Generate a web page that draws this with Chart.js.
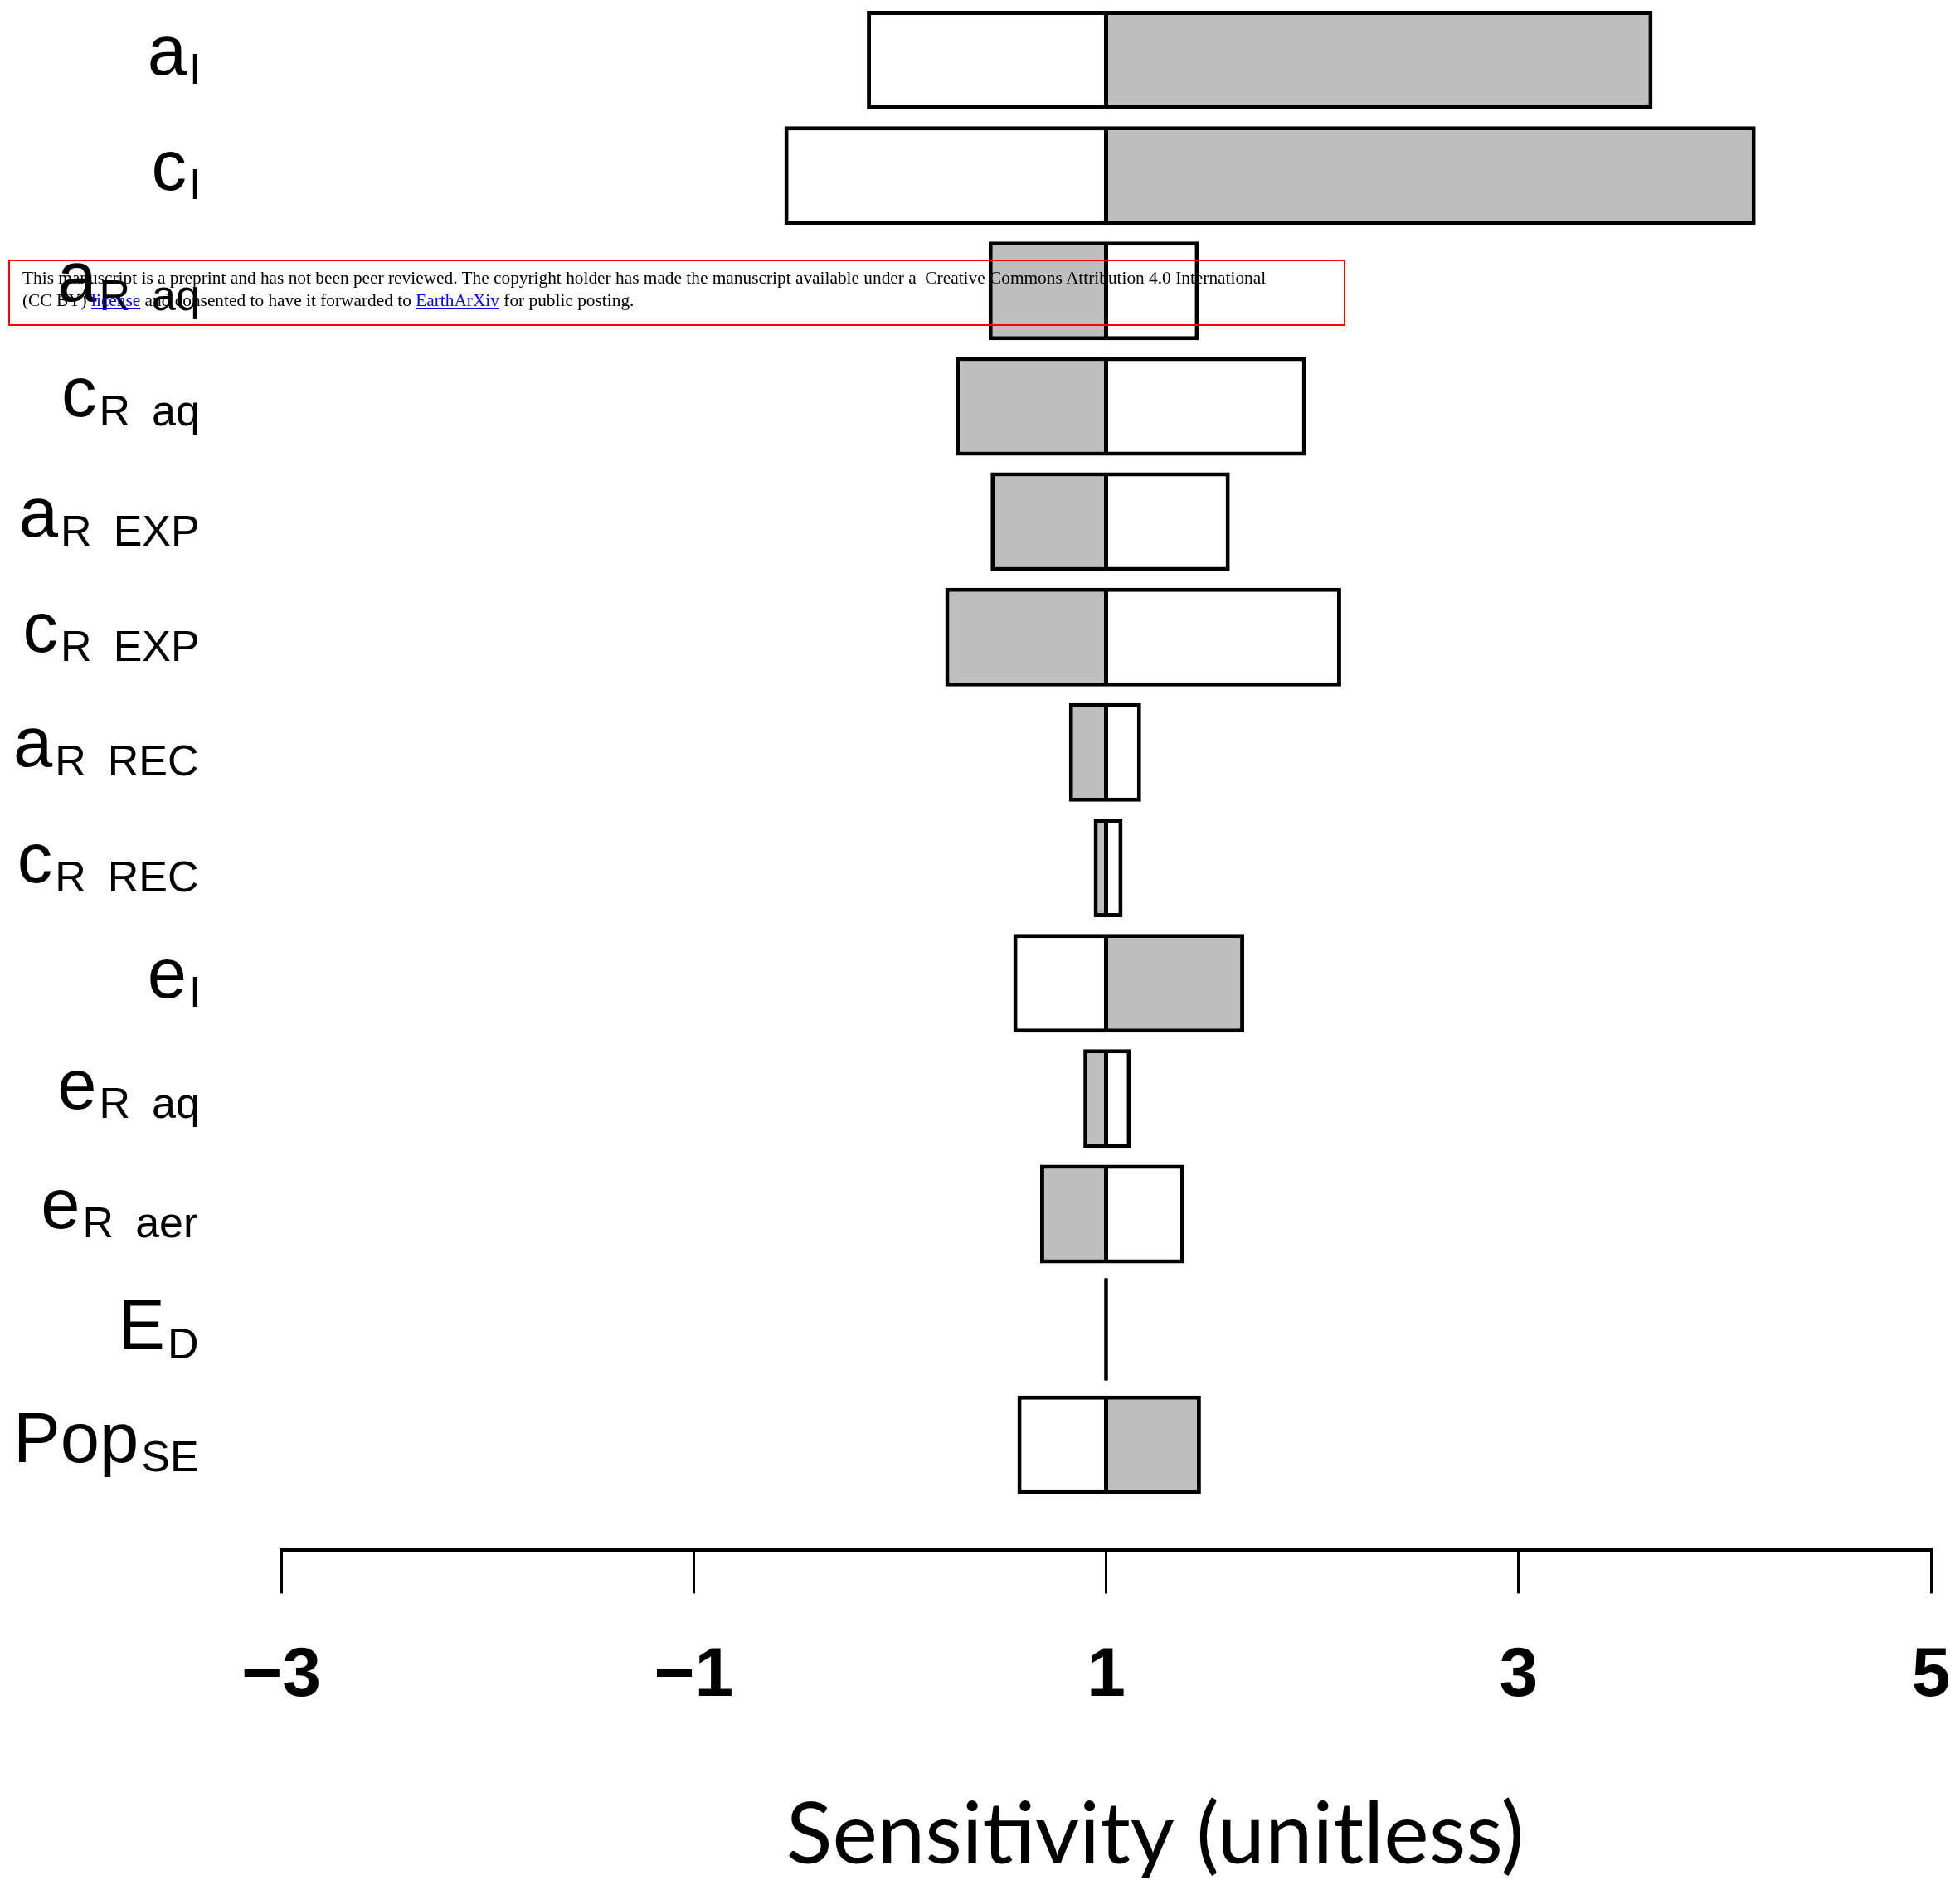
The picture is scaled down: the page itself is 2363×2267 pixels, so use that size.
<!DOCTYPE html>
<html>
<head>
<meta charset="utf-8">
<title>Sensitivity tornado</title>
<script src="https://cdn.jsdelivr.net/npm/chart.js@4.4.1/dist/chart.umd.min.js"></script>
<style>
  html, body { margin: 0; padding: 0; background: #fff; }
  #wrap { position: relative; width: 2363px; height: 2267px; }
  #notice {
    position: absolute; left: 10px; top: 313px; width: 1586px; height: 62px;
    border: 2px solid #ff0000; padding: 7px 7px 7px 15px;
    font-family: "Liberation Serif", "Times New Roman", serif; font-size: 21.35px; line-height: 27px;
    white-space: nowrap; color: #000;
  }
  #notice a { color: #0000ee; text-decoration: underline; }
</style>
</head>
<body>
<div id="wrap">
  <canvas id="tornado" width="2363" height="2267"></canvas>
  <div id="notice">This manuscript is a preprint and has not been peer reviewed. The copyright holder has made the manuscript available under a&nbsp; Creative Commons Attribution 4.0 International<br>(CC BY) <a href="#">license</a> and consented to have it forwarded to <a href="#">EarthArXiv</a> for public posting.</div>
</div>
<script>
// Parameter labels (main symbol + subscript)
const labelMain = ['a', 'c', 'a', 'c', 'a', 'c', 'a', 'c', 'e', 'e', 'e', 'E', 'Pop'];
const labelSub = ['I', 'I', 'R aq', 'R aq', 'R EXP', 'R EXP', 'R REC', 'R REC', 'I', 'R aq', 'R aer', 'D', 'SE'];

// Bar ends, both halves start at 1
const whiteEnds = [-0.16, -0.56, 1.45, 1.97, 1.60, 2.14, 1.17, 1.08, 0.55, 1.12, 1.38, 1.00, 0.57];
const greyEnds = [3.65, 4.15, 0.43, 0.27, 0.44, 0.22, 0.82, 0.94, 1.67, 0.89, 0.68, 1.00, 1.46];

const baseValue = 1;
const xTicks = [-3, -1, 1, 3, 5];
const xTitle = 'Sensitivity (unitless)';

function toPoints(ends) {
    return ends.map((v, i) => ({ y: i, x: [baseValue, v] }));
}

function zeroWidth(ctx) {
    return ctx.raw.x[1] === baseValue;
}

// left half draws a thin right edge, right half a thin left edge, so the line at 1 stays one width
function halfBorder(ctx) {
    const end = ctx.raw.x[1];
    if (end === baseValue) return 0;
    if (end < baseValue) return { top: 5, bottom: 5, left: 5, right: 2.5 };
    return { top: 5, bottom: 5, left: 2.5, right: 5 };
}

function makeDataset(label, ends, fill) {
    return {
        label: label,
        data: toPoints(ends),
        // a zero-length bar (E_D) shows as a plain black line
        backgroundColor: (ctx) => zeroWidth(ctx) ? '#000000' : fill,
        inflateAmount: (ctx) => zeroWidth(ctx) ? 2 : 0,
        borderColor: '#000000',
        borderWidth: halfBorder,
        borderSkipped: false,
        grouped: false,
        categoryPercentage: 1,
        barPercentage: 0.855
    };
}

// subscripted parameter names on the left
const paramLabels = {
    id: 'paramLabels',
    afterDraw(chart) {
        const ctx = chart.ctx;
        const yScale = chart.scales.y;
        const mainFont = '85px "Liberation Sans", Arial, sans-serif';
        const subFont = '52px "Liberation Sans", Arial, sans-serif';
        const rightEdge = 238;
        const drop = 11;
        ctx.save();
        ctx.fillStyle = '#000';
        ctx.textAlign = 'left';
        ctx.textBaseline = 'alphabetic';
        labelMain.forEach((m, i) => {
            const s = labelSub[i].replace(' ', '\u2002');
            ctx.font = mainFont;
            const mm = ctx.measureText(m);
            ctx.font = subFont;
            const sm = ctx.measureText(s);
            const top = Math.min(-mm.actualBoundingBoxAscent, drop - sm.actualBoundingBoxAscent);
            const bottom = Math.max(mm.actualBoundingBoxDescent, drop + sm.actualBoundingBoxDescent);
            const base = yScale.getPixelForValue(i) - (top + bottom) / 2;
            const xSub = rightEdge - sm.actualBoundingBoxRight;
            const xMain = xSub - 3 - mm.width;
            ctx.font = mainFont;
            ctx.fillText(m, xMain, base);
            ctx.font = subFont;
            ctx.fillText(s, xSub, base + drop);
        });
        ctx.restore();
    }
};

// axis title sits a bit right of the axis centre in the original
const axisTitle = {
    id: 'axisTitle',
    afterDraw(chart) {
        const ctx = chart.ctx;
        const xs = chart.scales.x;
        ctx.save();
        ctx.fillStyle = '#000';
        ctx.font = '103px Lato, "Open Sans", sans-serif';
        ctx.textAlign = 'center';
        ctx.textBaseline = 'alphabetic';
        ctx.fillText(xTitle, (xs.left + xs.right) / 2 + 59, 2247);
        ctx.restore();
    }
};

const ctx = document.getElementById('tornado').getContext('2d');
const chart = new Chart(ctx, {
    type: 'bar',
    data: {
        datasets: [
            makeDataset('white', whiteEnds, '#ffffff'),
            makeDataset('grey', greyEnds, '#bebebe')
        ]
    },
    options: {
        indexAxis: 'y',
        responsive: false,
        animation: false,
        events: [],
        layout: { padding: { left: 339, right: 35, top: 0, bottom: 144 } },
        plugins: {
            legend: { display: false },
            tooltip: { enabled: false }
        },
        scales: {
            y: {
                type: 'linear',
                reverse: true,
                offset: false,
                min: -0.521,
                max: 12.914,
                display: false,
                afterBuildTicks: (scale) => {
                    scale.ticks = labelMain.map((_, i) => ({ value: i }));
                }
            },
            x: {
                type: 'linear',
                min: xTicks[0],
                max: xTicks[xTicks.length - 1],
                afterBuildTicks: (scale) => {
                    scale.ticks = xTicks.map(v => ({ value: v }));
                },
                ticks: {
                    padding: 0,
                    color: '#000',
                    font: { family: '"Liberation Sans", Arial, sans-serif', size: 84, weight: 'bold', lineHeight: 2.4 },
                    callback: (v) => String(v).replace('-', '\u2212')
                },
                grid: {
                    drawOnChartArea: false,
                    tickLength: 52,
                    lineWidth: 3,
                    color: '#000'
                },
                border: { color: '#000', width: 5 }
            }
        }
    },
    plugins: [paramLabels, axisTitle]
});
</script>
</body>
</html>
